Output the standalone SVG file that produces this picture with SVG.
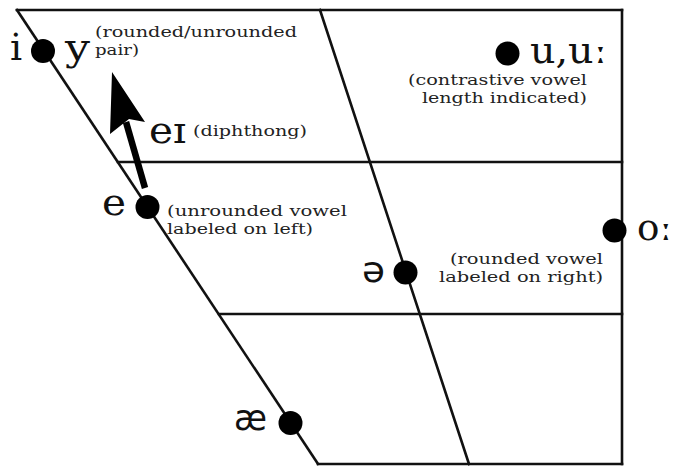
<svg xmlns="http://www.w3.org/2000/svg" width="688" height="466" viewBox="0 0 688 466">
  <style>
    .grid { stroke: #111; stroke-width: 2.6; fill: none; stroke-linecap: square; }
    .dot { fill: #000; }
    .ipa { font-family: "DejaVu Serif", "Liberation Serif", serif; font-size: 38px; fill: #111; }
    .ipas { font-family: "DejaVu Sans", "Liberation Sans", sans-serif; font-size: 35px; fill: #111; }
    .note { font-family: "DejaVu Serif", "Liberation Serif", serif; font-size: 15px; fill: #222; }
  </style>
  <rect width="688" height="466" fill="#fff"/>
  <g id="chart">
    <line class="grid" x1="17" y1="10" x2="622" y2="10" stroke-width="3"/>
    <line class="grid" x1="622" y1="10" x2="622" y2="464"/>
    <line class="grid" x1="17" y1="10" x2="318" y2="464"/>
    <line class="grid" x1="320" y1="10" x2="469" y2="464"/>
    <line class="grid" x1="118" y1="162" x2="622" y2="162"/>
    <line class="grid" x1="219" y1="314" x2="622" y2="314"/>
    <line class="grid" x1="318" y1="464" x2="622" y2="464"/>
  </g>
  <g id="connectors">
    <line x1="145" y1="188" x2="126" y2="122" stroke="#000" stroke-width="6.5"/>
    <path d="M112,72 L145,122 L129,119 L110,134 Z" fill="#000"/>
  </g>
  <g id="node-i-y">
    <circle class="dot" cx="43" cy="51" r="12"/>
    <text class="ipa" x="10" y="60">i</text>
    <text class="ipa" x="65" y="60" textLength="25" lengthAdjust="spacingAndGlyphs">y</text>
    <text class="note" x="95" y="36.5" textLength="202" lengthAdjust="spacingAndGlyphs">(rounded/unrounded</text>
    <text class="note" x="95" y="55" textLength="44" lengthAdjust="spacingAndGlyphs">pair)</text>
  </g>
  <g id="node-ei">
    <text class="ipa" x="149" y="143" textLength="37" lengthAdjust="spacingAndGlyphs">eɪ</text>
    <text class="note" x="193" y="136" textLength="114" lengthAdjust="spacingAndGlyphs">(diphthong)</text>
  </g>
  <g id="node-e">
    <circle class="dot" cx="147.5" cy="207" r="12"/>
    <text class="ipa" x="102" y="215" textLength="24" lengthAdjust="spacingAndGlyphs">e</text>
    <text class="note" x="167" y="215.5" textLength="180" lengthAdjust="spacingAndGlyphs">(unrounded vowel</text>
    <text class="note" x="167" y="233.5" textLength="146" lengthAdjust="spacingAndGlyphs">labeled on left)</text>
  </g>
  <g id="node-u">
    <circle class="dot" cx="507.5" cy="53.5" r="12"/>
    <text class="ipa" x="530" y="63" textLength="77" lengthAdjust="spacingAndGlyphs">u,uː</text>
    <text class="note" x="408" y="84.5" textLength="179" lengthAdjust="spacingAndGlyphs">(contrastive vowel</text>
    <text class="note" x="422" y="102.5" textLength="165" lengthAdjust="spacingAndGlyphs">length indicated)</text>
  </g>
  <g id="node-o">
    <circle class="dot" cx="614.5" cy="230.5" r="12"/>
    <text class="ipa" x="637" y="240" textLength="35" lengthAdjust="spacingAndGlyphs">oː</text>
    <text class="note" x="450" y="263.5" textLength="153" lengthAdjust="spacingAndGlyphs">(rounded vowel</text>
    <text class="note" x="439" y="281.5" textLength="164" lengthAdjust="spacingAndGlyphs">labeled on right)</text>
  </g>
  <g id="node-schwa">
    <circle class="dot" cx="405.5" cy="272.5" r="12"/>
    <text class="ipas" x="362" y="282" textLength="23" lengthAdjust="spacingAndGlyphs">ə</text>
  </g>
  <g id="node-ae">
    <circle class="dot" cx="290.5" cy="423" r="12"/>
    <text class="ipas" x="234" y="430" textLength="33" lengthAdjust="spacingAndGlyphs">æ</text>
  </g>
</svg>
